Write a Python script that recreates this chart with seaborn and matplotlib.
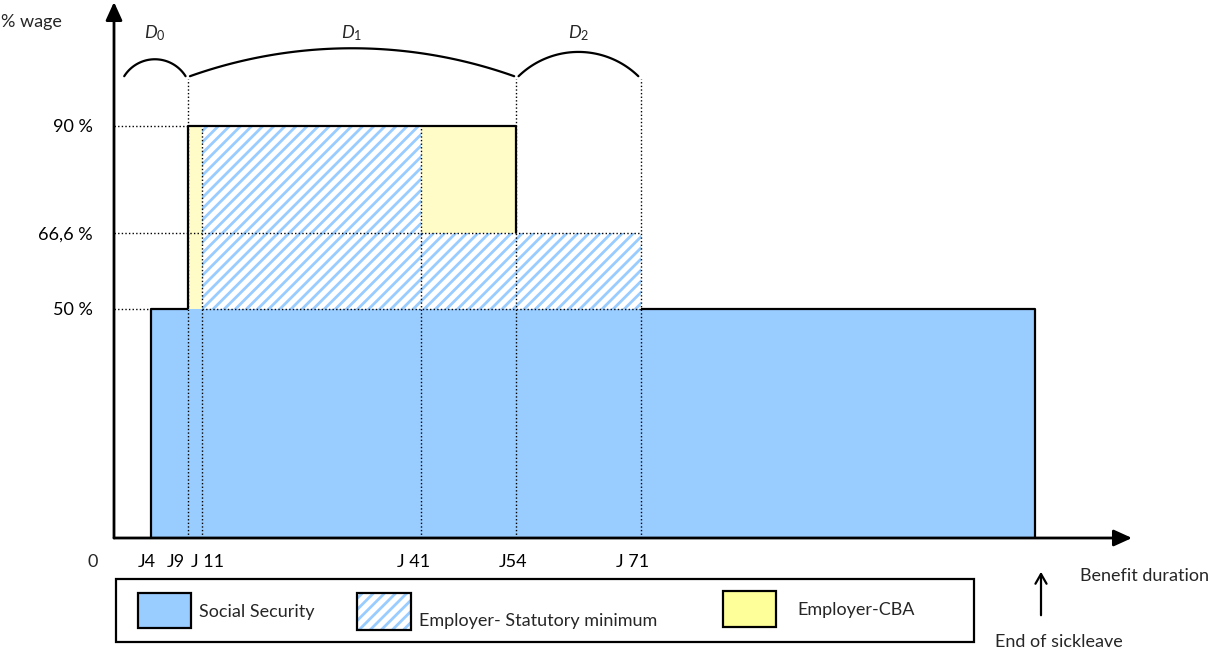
import numpy as np
import pandas as pd
import matplotlib
matplotlib.use("Agg")
import matplotlib.pyplot as plt
from matplotlib.patches import Rectangle
from matplotlib.transforms import ScaledTranslation
import seaborn as sns

# ---- data -------------------------------------------------------------
sources = ["Social Security", "Employer- Statutory minimum", "Employer-CBA"]

# benefit segments (days of sick leave) and the wage share reached in each
segment_edges = [4, 9, 11, 41, 54, 71, 125]
social_security_top = [50, 50, 50, 50, 50, 50]
statutory_top = [50, 50, 90, 66.6, 66.6, 50]
cba_top = [50, 90, 90, 90, 66.6, 50]

tick_days = [4, 9, 11, 41, 54, 71]
tick_labels = ["J4", "J9", "J 11", "J 41", "J54", "J 71"]

level_values = [50, 66.6, 90]
level_labels = ["50 %", "66,6 %", "90 %"]

period_bounds = [0, 9, 54, 71]
period_names = [r"$D_\mathit{0}$", r"$D_\mathit{1}$", r"$D_\mathit{2}$"]

# ---- style ------------------------------------------------------------
sns.set_theme(style="white")
plt.rcParams["font.family"] = ["Lato", "DejaVu Sans"]
plt.rcParams["mathtext.fontset"] = "custom"
plt.rcParams["mathtext.rm"] = "Lato"
plt.rcParams["mathtext.it"] = "Lato:italic"
plt.rcParams["hatch.linewidth"] = 2.0

FS = 13
BLUE = "#99CCFF"
YELLOW = "#FFFCC8"
YELLOW_KEY = "#FFFF99"
DOTTED = dict(color="black", lw=1.0, linestyle=(0, (1, 1.6)), zorder=3)
SOLID = dict(color="black", lw=1.6, zorder=4, solid_capstyle="butt")

W, H = 1208, 651


def fig_xy(x, y):
    """Pixel position measured from the top-left corner -> figure fraction."""
    return x / W, 1 - y / H


# ---- long-form table of the stacked blocks -----------------------------
edges = np.array(segment_edges, dtype=float)
mids = (edges[:-1] + edges[1:]) / 2
ss = np.array(social_security_top, dtype=float)
st = np.array(statutory_top, dtype=float)
cb = np.array(cba_top, dtype=float)
shares = {
    sources[0]: ss,
    sources[1]: st - ss,
    sources[2]: cb - st,
}
df = pd.concat(
    [pd.DataFrame({"day": mids, "share": v, "source": k}) for k, v in shares.items()],
    ignore_index=True,
)

# ---- figure -----------------------------------------------------------
fig = plt.figure(figsize=(W / 100, H / 100), dpi=100)
ax = fig.add_axes([114 / W, (H - 538) / H, (1132 - 114) / W, (538 - 2) / H])

# seaborn stacks the last hue level at the bottom
palette = {sources[0]: BLUE, sources[1]: "white", sources[2]: YELLOW}
sns.histplot(
    data=df, x="day", weights="share", hue="source", hue_order=sources[::-1],
    bins=segment_edges, multiple="stack", palette=palette, alpha=1,
    linewidth=0, legend=False, ax=ax,
)
for p in ax.patches:
    fc = p.get_facecolor()
    if np.allclose(fc[:3], (1, 1, 1)):
        p.set_edgecolor(BLUE)
        p.set_hatch("///")
        p.set_linewidth(0)

ax.set(xlabel="", ylabel="")
x0, x1 = -1.1, 138.3
ax.set_xlim(x0, x1)
ax.set_ylim(0, 117.0)
for s in ax.spines.values():
    s.set_visible(False)
ax.grid(False)

ax.set_xticks(tick_days, tick_labels)
ax.set_yticks(level_values, level_labels)
ax.tick_params(axis="x", length=0, pad=11.5, labelsize=FS, colors="black")
ax.tick_params(axis="y", length=0, pad=15.5, labelsize=FS, colors="black")
# nudge crowded day labels apart (pixels)
label_shift = [-4, -12, 5, -8, -3, -8]
for lab, dx in zip(ax.get_xticklabels(), label_shift):
    lab.set_transform(lab.get_transform() + ScaledTranslation(dx / 100, 0, fig.dpi_scale_trans))

# axes drawn as arrows
arrow_kw = dict(arrowstyle="-|>,head_length=11,head_width=5", color="black",
                lw=2, shrinkA=0, shrinkB=0, mutation_scale=1)
ax.annotate("", xy=(0, 1), xytext=(0, 0), xycoords="axes fraction",
            arrowprops=arrow_kw, annotation_clip=False)
ax.annotate("", xy=(1, 0), xytext=(0, 0), xycoords="axes fraction",
            arrowprops=arrow_kw, annotation_clip=False)

# ---- guide lines -------------------------------------------------------
ss_start, cba_start, stat_start = segment_edges[0], segment_edges[1], segment_edges[2]
cba_end, stat_end, ss_end = segment_edges[4], segment_edges[5], segment_edges[6]
bracket_base = 100.8

ax.hlines(level_values[2], x0, cba_start, **DOTTED)
ax.hlines(level_values[1], x0, stat_end, **DOTTED)
ax.hlines(level_values[0], x0, ss_start, **DOTTED)
ax.hlines(level_values[0], stat_start, stat_end, **DOTTED)
for d in tick_days[1:]:
    top = bracket_base - 0.6 if d in period_bounds else level_values[2]
    ax.vlines(d, 0, top, **DOTTED)

# solid outlines of the social security and collective agreement blocks
ax.plot([ss_start, ss_start, cba_start], [0, level_values[0], level_values[0]], **SOLID)
ax.plot([stat_end, ss_end, ss_end], [level_values[0], level_values[0], 0], **SOLID)
ax.plot([cba_start, cba_start, cba_end, cba_end],
        [level_values[0], level_values[2], level_values[2], level_values[1]], **SOLID)

# ---- period brackets ---------------------------------------------------
fig.canvas.draw()
o = ax.transData.transform((0, 0))
sx = ax.transData.transform((1, 0))[0] - o[0]
sy = ax.transData.transform((0, 1))[1] - o[1]
arc_rise = [3.7, 6.1, 5.3]
gap = 0.3
for i, name in enumerate(period_names):
    a = max(period_bounds[i], x0 + 0.1) + gap
    b = period_bounds[i + 1] - gap
    c = (b - a) * sx
    s = arc_rise[i] * sy
    R = (c * c / 4 + s * s) / (2 * s)
    phi = np.arcsin(c / 2 / R)
    t = np.linspace(np.pi / 2 + phi, np.pi / 2 - phi, 80)
    xc = (a + b) / 2
    xs = xc + R * np.cos(t) / sx
    ys = bracket_base + arc_rise[i] - R / sy + R * np.sin(t) / sy
    ax.plot(xs, ys, color="black", lw=1.6, clip_on=False)
    mid = (max(period_bounds[i], x0) + period_bounds[i + 1]) / 2
    ax.text(mid, 110.2, name, ha="center", va="center", fontsize=FS, clip_on=False)

# ---- free text ---------------------------------------------------------
fig.text(*fig_xy(1, 22), "% wage", ha="left", va="center", fontsize=FS)
fig.text(*fig_xy(93, 562), "0", ha="center", va="center", fontsize=FS)
fig.text(*fig_xy(1080, 576), "Benefit duration", ha="left", va="center", fontsize=FS)
fig.text(*fig_xy(995, 642), "End of sickleave", ha="left", va="center", fontsize=FS)
fig.patches.append(matplotlib.patches.FancyArrowPatch(
    fig_xy(1041, 618), fig_xy(1041, 569), transform=fig.transFigure,
    arrowstyle="->,head_length=7,head_width=4", mutation_scale=1,
    color="black", lw=1.6))

# ---- key ---------------------------------------------------------------
def fig_rect(x, y, w, h, **kw):
    fx, fy = fig_xy(x, y + h)
    fig.patches.append(Rectangle((fx, fy), w / W, h / H,
                                 transform=fig.transFigure, **kw))

fig_rect(116, 579, 858, 63, facecolor="white", edgecolor="black", lw=1.6)
fig_rect(138, 593, 53, 35, facecolor=BLUE, edgecolor="black", lw=1.6)
fig_rect(357, 593, 54, 37, facecolor="white", edgecolor=BLUE, lw=0, hatch="///")
fig_rect(357, 593, 54, 37, facecolor="none", edgecolor="black", lw=1.6)
fig_rect(723, 591, 53, 36, facecolor=YELLOW_KEY, edgecolor="black", lw=1.6)
fig.text(*fig_xy(199, 612), sources[0], ha="left", va="center", fontsize=FS)
fig.text(*fig_xy(419, 621), sources[1], ha="left", va="center", fontsize=FS)
fig.text(*fig_xy(797, 610), sources[2], ha="left", va="center", fontsize=FS)

fig.savefig("out.png", dpi=100)
